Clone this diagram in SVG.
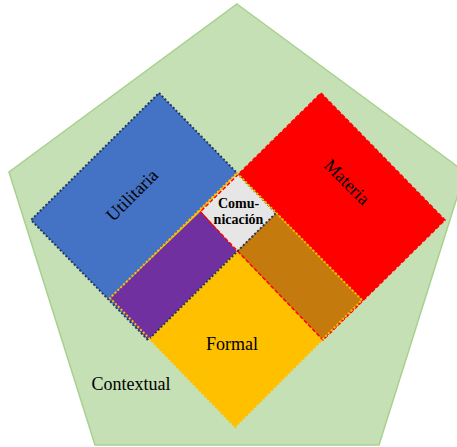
<svg xmlns="http://www.w3.org/2000/svg" width="457" height="447" viewBox="0 0 457 447">
<style>
.lbl{font-family:"Liberation Serif","Times New Roman",serif;font-size:18px;fill:#000;text-anchor:middle}
.bold{font-family:"Liberation Serif","Times New Roman",serif;font-size:14px;font-weight:bold;fill:#000;text-anchor:middle}
.bs{fill:none;stroke:#203864;stroke-width:2;stroke-dasharray:2 2}
.rs{fill:none;stroke:#FF0000;stroke-width:1.5;stroke-dasharray:4 2}
.ys{fill:none;stroke:#FFC000;stroke-width:2;stroke-dasharray:2 2}
</style>
<g id="contextual">
<polygon points="237,4 465,172 379,445 95,445 9,172" fill="#C5E0B4" stroke="#A9D18E" stroke-width="1.5"/>
<text class="lbl" x="131" y="390">Contextual</text>
</g>
<g id="utilitaria">
<polygon points="159,93 276,213 148,340 31,220" fill="#4472C4"/>
</g>
<g id="materia">
<polygon points="321,93 445,220 323,340 200,212" fill="#FF0000"/>
</g>
<g id="formal">
<polygon points="237,173 362,300 235,427 110,298" fill="#FFC000"/>
</g>
<g id="overlaps">
<polygon points="201,211 237,251 148,340 110,298" fill="#7030A0"/>
<polygon points="276,213 362,300 323,340 237,251" fill="#C47A0C"/>
</g>
<g id="comunicacion">
<polygon points="237,174 276,213 237,251 201,211" fill="#E7E6E6"/>
</g>
<g id="borders">
<polygon class="rs" points="321,93 445,220 323,340 200,212"/>
<polygon class="bs" points="159,93 276,213 148,340 31,220"/>
<polygon class="ys" points="237,173 362,300 235,427 110,298"/>
</g>
<g id="labels">
<text class="lbl" transform="translate(132,195) rotate(-45)" y="6">Utilitaria</text>
<text class="lbl" transform="translate(347,182) rotate(45)" y="6">Materia</text>
<text class="lbl" x="232" y="350">Formal</text>
<text class="bold" x="238.5" y="208">Comu-</text>
<text class="bold" x="238.5" y="224">nicación</text>
</g>
</svg>
